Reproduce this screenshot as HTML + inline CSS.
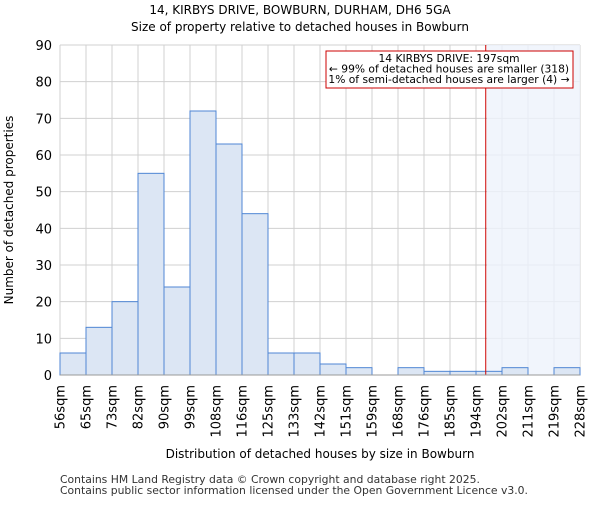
<!DOCTYPE html>
<html><head><meta charset="utf-8"><style>
body{margin:0;background:#fff;}
svg{font-family:"DejaVu Sans","Liberation Sans",sans-serif;}
</style></head><body>
<svg id="chart" width="600" height="500" viewBox="0 0 600 500">
<text x="300" y="14" text-anchor="middle" font-size="12">14, KIRBYS DRIVE, BOWBURN, DURHAM, DH6 5GA</text>
<text x="300" y="31" text-anchor="middle" font-size="12">Size of property relative to detached houses in Bowburn</text>
<g id="grid"></g>
<rect x="487" y="45" width="93" height="330" fill="#eef3fb" opacity="0.8"/>
<g id="bars"></g>
<g id="axes"></g>
<text transform="translate(13,210) rotate(-90)" text-anchor="middle" font-size="12">Number of detached properties</text>
<text x="320" y="458" text-anchor="middle" font-size="12">Distribution of detached houses by size in Bowburn</text>
<text x="60" y="483" font-size="10.8" fill="#333">Contains HM Land Registry data © Crown copyright and database right 2025.</text>
<text x="60" y="494" font-size="10.8" fill="#333">Contains public sector information licensed under the Open Government Licence v3.0.</text>
</svg>
<script>
const categories=["56sqm","65sqm","73sqm","82sqm","90sqm","99sqm","108sqm","116sqm","125sqm","133sqm","142sqm","151sqm","159sqm","168sqm","176sqm","185sqm","194sqm","202sqm","211sqm","219sqm","228sqm"];
const counts=[6,13,20,55,24,72,63,44,6,6,3,2,0,2,1,1,1,2,0,2];
const yTicks=[0,10,20,30,40,50,60,70,80,90];
const propertySize=197;
const binStarts=[56,65,73,82,90,99,108,116,125,133,142,151,159,168,176,185,194,202,211,219,228];
const NS="http://www.w3.org/2000/svg";
const L=60,R=580,T=45,B=375,yMax=90;
const nb=counts.length,bw=(R-L)/nb;
const xPos=i=>L+i*bw;
const yPos=v=>B-(v/yMax)*(B-T);
function mk(tag,attrs,parent){const e=document.createElementNS(NS,tag);for(const k in attrs)e.setAttribute(k,attrs[k]);parent.appendChild(e);return e;}
const grid=document.getElementById('grid'),bars=document.getElementById('bars'),axes=document.getElementById('axes');
yTicks.forEach(t=>{
 const l=mk('line',{x1:L,x2:R,y1:yPos(t),y2:yPos(t),stroke:'#d0d0d0'},grid);
 
 
 const tx=mk('text',{x:L-8,y:yPos(t)+5,'text-anchor':'end','font-size':13},axes);
 tx.textContent=t;
 
 
});
categories.forEach((c,i)=>{
 const l=mk('line',{x1:xPos(i),x2:xPos(i),y1:T,y2:B,stroke:'#d0d0d0'},grid);
 
 
 const x=xPos(i)+4.5;
 const tx=mk('text',{transform:`translate(${x},385) rotate(-90)`,'text-anchor':'end','font-size':13},axes);
 tx.textContent=c;
 
 
});
counts.forEach((v,i)=>{
 if(v<=0)return;
 const r=mk('rect',{x:xPos(i),y:yPos(v),width:bw,height:B-yPos(v),fill:'#dce6f4',stroke:'#4f86d4','stroke-width':1},bars);
 
 
});
let mi=0;for(let i=0;i<binStarts.length-1;i++){if(propertySize>=binStarts[i]&&propertySize<binStarts[i+1])mi=i;}
const mx=xPos(mi)+bw*(propertySize-binStarts[mi])/(binStarts[mi+1]-binStarts[mi]);
const ml=mk('line',{x1:mx,x2:mx,y1:T,y2:B,stroke:'#cc0000','stroke-width':1},axes);


const ax=mk('line',{x1:L,x2:R,y1:B,y2:B,stroke:'#999'},axes);


const box=mk('rect',{x:326,y:51,width:247,height:37,fill:'#fff',stroke:'#cc0000'},axes);


["14 KIRBYS DRIVE: 197sqm","← 99% of detached houses are smaller (318)","1% of semi-detached houses are larger (4) →"].forEach((s,k)=>{
 const t=mk('text',{x:449,y:62+k*10.5,'text-anchor':'middle','font-size':10.7},axes);
 t.textContent=s;
 
 
});
</script>
</body></html>
